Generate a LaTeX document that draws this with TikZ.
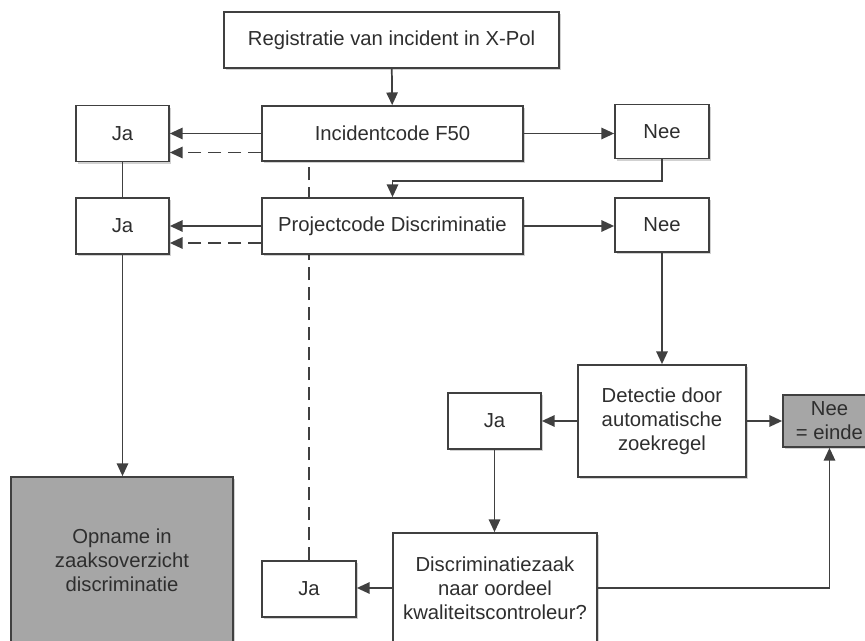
\documentclass[tikz,border=0pt]{standalone}
\usepackage{fontspec}
\setmainfont{Liberation Sans}
\usetikzlibrary{arrows.meta,calc,shadows,backgrounds}
\definecolor{linec}{HTML}{404040}
\definecolor{textc}{HTML}{2E2E2E}
\definecolor{endfill}{HTML}{A6A6A6}
\begin{document}
\begin{tikzpicture}[x=0.75pt,y=-0.75pt,
  font=\fontsize{15.2pt}{18pt}\selectfont,
  sz/.style 2 args={minimum width=#1*0.75pt, minimum height=#2*0.75pt},
  box/.style={draw=linec, line width=1.3pt, fill=white, text=textc,
    align=center, inner sep=0pt,
    drop shadow={shadow xshift=1.6pt, shadow yshift=-1.6pt, opacity=0.18, fill=black}},
  endbox/.style={box, fill=endfill},
  conn/.style={draw=linec, line width=1.3pt},
  arr/.style={conn, -{Triangle[length=9.5pt, width=8.5pt]}},
  dash line/.style={conn, dash pattern=on 10pt off 5pt},
  dash arr/.style={arr, dash pattern=on 10pt off 5pt}]
\useasboundingbox (0,0) rectangle (865,641);

% boxes
\node[box, sz={335}{56}] (reg) at (391.5,40) {Registratie van incident in X-Pol};
\node[box, sz={261}{55}] (inc) at (392.5,133.5) {Incidentcode F50};
\node[box, sz={93}{56}]  (ja1) at (122.5,133.5) {Ja};
\node[box, sz={94}{54}]  (nee1) at (662,131.5) {Nee};
\node[box, sz={261}{56}] (proj) at (392.5,226) {Projectcode Discriminatie};
\node[box, sz={93}{56}]  (ja2) at (122.5,226) {Ja};
\node[box, sz={94}{54}]  (nee2) at (662,225) {Nee};
\node[endbox, sz={222}{166}] (opn) at (122,560) {Opname in\\zaaksoverzicht\\discriminatie};
\node[box, sz={168}{112}] (det) at (662,421) {Detectie door\\automatische\\zoekregel};
\node[endbox, sz={93}{52}] (eind) at (829.5,421) {Nee\\= einde};
\node[box, sz={93}{56}]  (ja3) at (494.5,421) {Ja};
\node[box, sz={204}{110}] (disc) at (495,588) {Discriminatiezaak\\naar oordeel\\kwaliteitscontroleur?};
\node[box, sz={94}{56}]  (ja4) at (309,589) {Ja};

% dashed return path from the quality check, running behind the boxes
\begin{scope}[on background layer]
  \draw[dash line] (ja4.north) -- (ja4.north |- inc.south);
\end{scope}

% connectors
\draw[arr] (reg) -- (inc);
\draw[arr] (inc.west) -- (ja1.east);
\draw[dash arr] ($(inc.west)+(0,19)$) -- ($(ja1.east)+(0,19)$);
\draw[arr] (inc.east) -- (inc.east -| nee1.west);
\draw[arr] (nee1.south) -- ++(0,22) -| (proj.north);
\draw[arr] (proj.west) -- (ja2.east);
\draw[dash arr] ($(proj.west)+(0,17)$) -- ($(ja2.east)+(0,17)$);
\draw[arr] (proj.east) -- (proj.east -| nee2.west);
\draw[conn] (ja1.south) -- (ja2.north);
\draw[arr] (ja2.south) -- (opn.north -| ja2.south);
\draw[arr] (nee2.south) -- (det.north);
\draw[arr] (det.east) -- (eind.west);
\draw[arr] (det.west) -- (ja3.east);
\draw[arr] (ja3.south) -- (ja3.south |- disc.north);
\draw[arr] (disc.west) -- (disc.west -| ja4.east);
\draw[arr] (disc.east) -| (eind.south);
\end{tikzpicture}
\end{document}
